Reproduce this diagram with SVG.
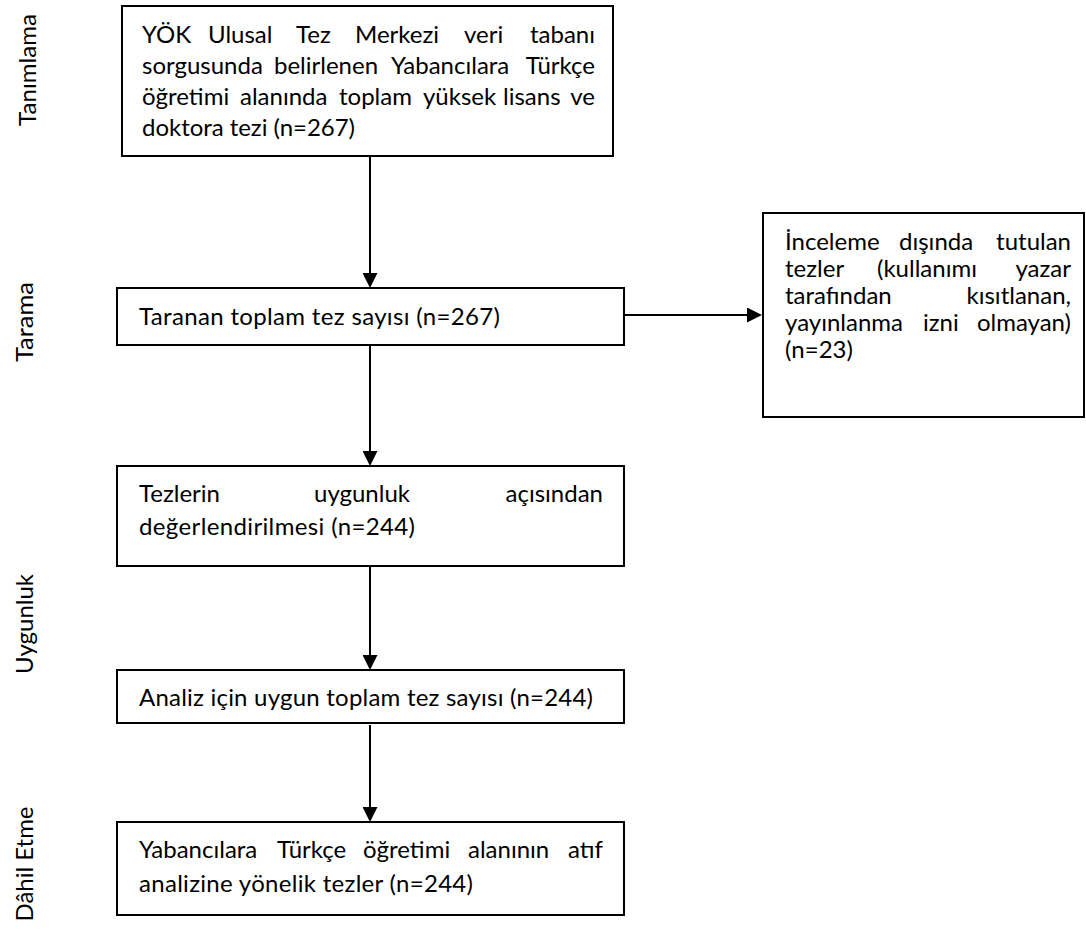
<svg xmlns="http://www.w3.org/2000/svg" width="1086" height="932" viewBox="0 0 1086 932">
<style>
  .box { fill: #ffffff; stroke: #000000; stroke-width: 2; }
  .t { font-family: Lato, "Open Sans", "Liberation Sans", sans-serif; font-size: 24px; fill: #000000; }
  .lab { font-family: Lato, "Open Sans", "Liberation Sans", sans-serif; font-size: 24px; fill: #000000; text-anchor: middle; }
  .conn { stroke: #000000; stroke-width: 2; fill: none; marker-end: url(#ah); }
  .e { text-anchor: end; }
</style>
<defs>
  <marker id="ah" viewBox="0 0 15 15" refX="8" refY="7.5" markerWidth="15" markerHeight="15" markerUnits="userSpaceOnUse" orient="auto">
    <path d="M0,0 L15,7.5 L0,15 Z" fill="#000000"/>
  </marker>
</defs>
<rect width="1086" height="932" fill="#ffffff"/>

<g id="labels">
  <text class="lab" transform="translate(36,70) rotate(-90)" textLength="112" lengthAdjust="spacingAndGlyphs">Tanımlama</text>
  <text class="lab" transform="translate(33,322) rotate(-90)" textLength="80" lengthAdjust="spacingAndGlyphs">Tarama</text>
  <text class="lab" transform="translate(33,624) rotate(-90)" textLength="100" lengthAdjust="spacingAndGlyphs">Uygunluk</text>
  <text class="lab" transform="translate(33,864) rotate(-90)" textLength="115" lengthAdjust="spacingAndGlyphs">Dâhil Etme</text>
</g>

<g id="connectors">
  <line class="conn" x1="370" y1="156" x2="370" y2="281"/>
  <line class="conn" x1="370" y1="345" x2="370" y2="459"/>
  <line class="conn" x1="370" y1="566" x2="370" y2="663"/>
  <line class="conn" x1="370" y1="725" x2="370" y2="815"/>
  <line class="conn" x1="624" y1="315" x2="755" y2="315"/>
</g>

<g id="node-identification">
  <rect class="box" x="122" y="6" width="491" height="150"/>
  <text class="t" y="43"><tspan x="142">YÖK</tspan><tspan x="208">Ulusal</tspan><tspan x="296">Tez</tspan><tspan x="355">Merkezi</tspan><tspan x="464">veri</tspan><tspan x="595" class="e">tabanı</tspan></text>
  <text class="t" y="74"><tspan x="142">sorgusunda</tspan><tspan x="274">belirlenen</tspan><tspan x="391">Yabancılara</tspan><tspan x="595" class="e">Türkçe</tspan></text>
  <text class="t" y="105"><tspan x="142">öğretimi</tspan><tspan x="240">alanında</tspan><tspan x="339">toplam</tspan><tspan x="423">yüksek</tspan><tspan x="503">lisans</tspan><tspan x="595" class="e">ve</tspan></text>
  <text class="t" x="142" y="136" textLength="213" lengthAdjust="spacing">doktora tezi (n=267)</text>
</g>

<g id="node-screening">
  <rect class="box" x="117" y="288" width="507" height="57"/>
  <text class="t" x="139" y="325" textLength="361" lengthAdjust="spacing">Taranan toplam tez sayısı (n=267)</text>
</g>

<g id="node-excluded">
  <rect class="box" x="763" y="213" width="321" height="204"/>
  <text class="t" y="250"><tspan x="785">İnceleme</tspan><tspan x="899">dışında</tspan><tspan x="1071" class="e">tutulan</tspan></text>
  <text class="t" y="277"><tspan x="785">tezler</tspan><tspan x="877">(kullanımı</tspan><tspan x="1071" class="e">yazar</tspan></text>
  <text class="t" y="304"><tspan x="785">tarafından</tspan><tspan x="1071" class="e">kısıtlanan,</tspan></text>
  <text class="t" y="331"><tspan x="785">yayınlanma</tspan><tspan x="923">izni</tspan><tspan x="1071" class="e">olmayan)</tspan></text>
  <text class="t" x="785" y="358" textLength="68" lengthAdjust="spacing">(n=23)</text>
</g>

<g id="node-eligibility">
  <rect class="box" x="117" y="466" width="507" height="100"/>
  <text class="t" y="502"><tspan x="139">Tezlerin</tspan><tspan x="314">uygunluk</tspan><tspan x="603" class="e">açısından</tspan></text>
  <text class="t" x="139" y="535" textLength="276" lengthAdjust="spacing">değerlendirilmesi (n=244)</text>
</g>

<g id="node-eligible">
  <rect class="box" x="117" y="670" width="507" height="53"/>
  <text class="t" x="139" y="706" textLength="454" lengthAdjust="spacing">Analiz için uygun toplam tez sayısı (n=244)</text>
</g>

<g id="node-included">
  <rect class="box" x="117" y="822" width="507" height="93"/>
  <text class="t" y="858"><tspan x="139">Yabancılara</tspan><tspan x="277">Türkçe</tspan><tspan x="363">öğretimi</tspan><tspan x="468">alanının</tspan><tspan x="603" class="e">atıf</tspan></text>
  <text class="t" x="139" y="892" textLength="334" lengthAdjust="spacing">analizine yönelik tezler (n=244)</text>
</g>
</svg>
